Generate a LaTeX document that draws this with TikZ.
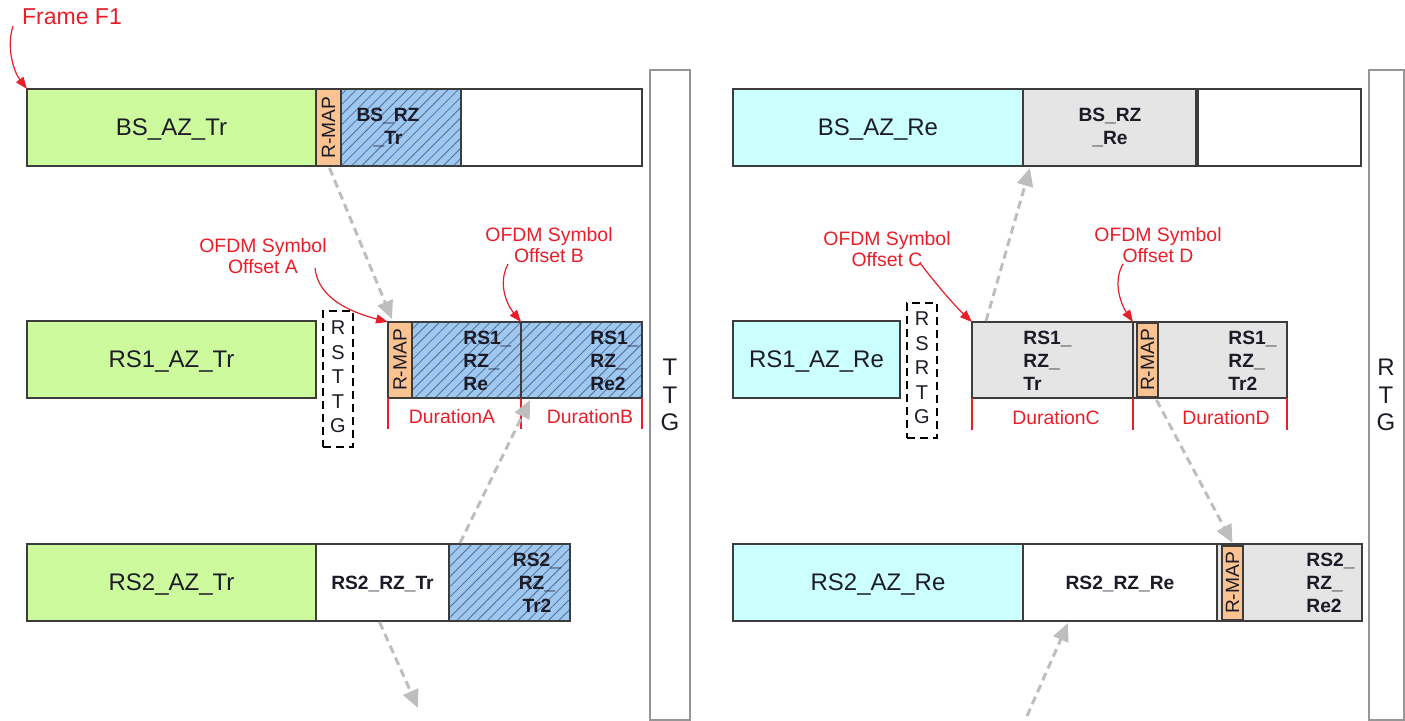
\documentclass[tikz,border=0pt]{standalone}
\usepackage{fontspec}
\setmainfont{Liberation Sans}
\usetikzlibrary{fit,calc,arrows.meta,patterns.meta}
\definecolor{azgreen}{RGB}{206,250,158}
\definecolor{azcyan}{RGB}{204,255,255}
\definecolor{rzgray}{RGB}{229,229,229}
\definecolor{rzblue}{RGB}{158,200,240}
\definecolor{hatchc}{RGB}{84,108,150}
\definecolor{rmapc}{RGB}{250,195,145}
\definecolor{edgec}{RGB}{60,60,60}
\definecolor{tallc}{RGB}{150,150,150}
\definecolor{redc}{RGB}{232,30,40}
\definecolor{arrowgray}{RGB}{190,190,190}
\definecolor{labelc}{RGB}{28,28,40}
\newcommand\fmainsz{\fontsize{12}{14}\selectfont}
\newcommand\fboldsz{\fontsize{9.6}{11.5}\selectfont\bfseries}
\begin{document}
\begin{tikzpicture}[x=0.5pt,y=-0.5pt,
  blk/.style={draw=edgec, line width=0.75pt, inner sep=0pt, outer sep=0pt},
  grn/.style={blk, fill=azgreen},
  cyn/.style={blk, fill=azcyan},
  wht/.style={blk, fill=white},
  gry/.style={blk, fill=rzgray},
  hat/.style={blk, preaction={fill=rzblue}, pattern={Lines[angle=45,distance=3.6pt,line width=0.4pt]}, pattern color=hatchc},
  rmapb/.style={blk, fill=rmapc},
  lab/.style={font=\fmainsz, text=labelc, inner sep=0pt, text depth=0pt},
  blab/.style={font=\fboldsz, text=labelc, inner sep=0pt, text depth=0pt},
  rmaptxt/.style={rotate=90, font=\fontsize{9.6}{11}\selectfont, text=labelc, inner sep=0pt},
  blbl/.style={font=\fboldsz, text=labelc, inner sep=0pt, align=left},
  bclbl/.style={font=\fboldsz, text=labelc, inner sep=0pt, align=center},
  tall/.style={draw=tallc, line width=0.6pt, inner sep=0pt},
  talltxt/.style={align=center, font=\fontsize{12}{13.8}\selectfont, text=labelc, inner sep=0pt},
  gapbox/.style={draw=black, line width=0.7pt, dash pattern=on 4pt off 2.5pt, inner sep=0pt},
  gaptxt/.style={align=center, font=\fontsize{10}{12.3}\selectfont, text=labelc, inner sep=0pt},
  rlbl/.style={font=\fontsize{9.7}{10.4}\selectfont, text=redc, align=center, inner sep=0pt},
  durtxt/.style={font=\fontsize{9.7}{11}\selectfont, text=redc, inner sep=0pt},
  durl/.style={draw=redc, line width=1pt},
  rarrow/.style={draw=redc, line width=0.6pt, -{Triangle[length=6pt,width=4.5pt]}},
  garrow/.style={draw=arrowgray, line width=1.5pt, dash pattern=on 4pt off 2.5pt, -{Triangle[length=9pt,width=8pt]}}
]
\useasboundingbox (0,0) rectangle (1405,721);

% ---------- left half ----------
\node[grn, fit={(27,89)(316,166)}] (bsaztr) {};
\node[lab] (bsaztrt) at (bsaztr.center) {BS\_AZ\_Tr};
\node[hat, fit={(341,89)(461,166)}] (bsrztr) {};
\node[rmapb, fit={(316,89)(341,166)}] (bsrmap) {};
\node[rmaptxt] (bsrmapt) at (bsrmap.center) {R-MAP};
\node[wht, fit={(461,89)(642,166)}] (bswl) {};
\node[bclbl] (bsrztrt) at (388,127) {BS\_RZ\\\_Tr};
\node[tall, fit={(650,70)(690,720)}] (ttg) {};
\node[talltxt] (ttgt) at (670,395) {T\\T\\G};

\node[grn, fit={(27,321)(316,398)}] (rs1aztr) {};
\node[lab] (rs1aztrt) at (rs1aztr.center) {RS1\_AZ\_Tr};
\node[gapbox, fit={(323,311)(353,447)}] (rsttg) {};
\node[gaptxt] (rsttgt) at (338,377) {R\\S\\T\\T\\G};
\node[hat, fit={(412,322)(521,398)}] (rs1re) {};
\node[hat, fit={(521,322)(642,398)}] (rs1re2) {};
\node[rmapb, fit={(388,322)(412,398)}] (rs1rmap) {};
\node[rmaptxt] (rs1rmapt) at (rs1rmap.center) {R-MAP};
\node[blbl, anchor=west] (rs1ret) at (463,361) {RS1\_\\RZ\_\\Re};
\node[blbl, anchor=west] (rs1re2t) at (590,361) {RS1\_\\RZ\_\\Re2};

\node[grn, fit={(27,544)(316,621)}] (rs2aztr) {};
\node[lab] (rs2aztrt) at (rs2aztr.center) {RS2\_AZ\_Tr};
\node[wht, fit={(316,544)(449,621)}] (rs2rztr) {};
\node[blab] (rs2rztrt) at (rs2rztr.center) {RS2\_RZ\_Tr};
\node[hat, fit={(449,544)(570,621)}] (rs2tr2) {};
\node[bclbl] (rs2tr2t) at (537,583) {RS2\_\\RZ\_\\Tr2};

% ---------- right half ----------
\node[cyn, fit={(733,89)(1023,166)}] (bsazre) {};
\node[lab] (bsazret) at (bsazre.center) {BS\_AZ\_Re};
\node[gry, fit={(1023,89)(1196,166)}] (bsrzre) {};
\node[bclbl] (bsrzret) at (1110,127) {BS\_RZ\\\_Re};
\node[wht, fit={(1198,89)(1361,166)}] (bswr) {};
\node[tall, fit={(1369,70)(1404,720)}] (rtg) {};
\node[talltxt] (rtgt) at (1386,395) {R\\T\\G};

\node[cyn, fit={(733,321)(900,398)}] (rs1azre) {};
\node[lab] (rs1azret) at (rs1azre.center) {RS1\_AZ\_Re};
\node[gapbox, fit={(907,303)(937,438)}] (rsrtg) {};
\node[gaptxt] (rsrtgt) at (922,368) {R\\S\\R\\T\\G};
\node[gry, fit={(972,322)(1133,398)}] (rs1rztr) {};
\node[gry, fit={(1133,322)(1287,398)}] (rs1rztr2) {};
\node[rmapb, fit={(1137,323)(1158,397)}] (rs1rmapr) {};
\node[rmaptxt] (rs1rmaprt) at (rs1rmapr.center) {R-MAP};
\node[blbl, anchor=west] (rs1rztrt) at (1023,361) {RS1\_\\RZ\_\\Tr};
\node[blbl, anchor=west] (rs1rztr2t) at (1228,361) {RS1\_\\RZ\_\\Tr2};

\node[cyn, fit={(733,544)(1023,621)}] (rs2azre) {};
\node[lab] (rs2azret) at (rs2azre.center) {RS2\_AZ\_Re};
\node[wht, fit={(1023,544)(1217,621)}] (rs2rzre) {};
\node[blab] (rs2rzret) at (rs2rzre.center) {RS2\_RZ\_Re};
\node[gry, fit={(1217,544)(1362,621)}] (rs2re2) {};
\node[rmapb, fit={(1222,546)(1243,620)}] (rs2rmapr) {};
\node[rmaptxt] (rs2rmaprt) at (rs2rmapr.center) {R-MAP};
\node[blbl, anchor=west] (rs2re2t) at (1306,583) {RS2\_\\RZ\_\\Re2};

% ---------- durations ----------
\draw[durl] (rs1rmap.south west) -- ++(0,31);
\draw[durl] (rs1re.south east) -- ++(0,31);
\draw[durl] (rs1re2.south east) -- ++(0,31);
\node[durtxt] (dura) at (452,417) {DurationA};
\node[durtxt] (durb) at (590,417) {DurationB};
\draw[durl] (rs1rztr.south west) -- ++(0,32);
\draw[durl] (rs1rztr.south east) -- ++(0,32);
\draw[durl] (rs1rztr2.south east) -- ++(0,32);
\node[durtxt] (durc) at (1056,418) {DurationC};
\node[durtxt] (durd) at (1226,418) {DurationD};

% ---------- red labels and arrows ----------
\node[font=\fontsize{11.5}{13}\selectfont, text=redc, inner sep=0pt] (frame) at (72,17) {Frame F1};
\coordinate (f1s) at (13,26);
\draw[rarrow] (f1s) .. controls (6,48) and (14,72) .. (bsaztr.north west);

\node[rlbl] (ofa) at (263,256) {OFDM Symbol\\Offset A};
\coordinate (oas) at (315,268);
\draw[rarrow] (oas) .. controls (318,298) and (350,312) .. (rs1rmap.north west);

\node[rlbl] (ofb) at (549,245) {OFDM Symbol\\Offset B};
\coordinate (obs) at (508,264);
\draw[rarrow] (obs) .. controls (497,285) and (508,306) .. (rs1re.north east);

\node[rlbl] (ofc) at (887,249) {OFDM Symbol\\Offset C};
\coordinate (ocs) at (920,263);
\draw[rarrow] (ocs) .. controls (935,283) and (955,306) .. (rs1rztr.north west);

\node[rlbl] (ofd) at (1158,245) {OFDM Symbol\\Offset D};
\coordinate (ods) at (1123,264);
\draw[rarrow] (ods) .. controls (1112,283) and (1122,306) .. (rs1rztr.north east);

% ---------- gray dashed arrows ----------
\draw[garrow] ($(bsrmap.south)+(1,2)$) -- ($(rs1rmap.north west)+(4,-3)$);
\draw[garrow] ($(rs2tr2.north west)+(11,-1)$) -- ($(rs1re2.south west)+(9,2)$);
\coordinate (down1) at (418,708);
\draw[garrow] ($(rs2rztr.south)+(-3,1)$) -- (down1);
\draw[garrow] ($(rs1rztr.north west)+(14,-1)$) -- ($(bsrzre.south west)+(7,2)$);
\draw[garrow] ($(rs1rmapr.south)+(9,3)$) -- ($(rs2rmapr.north)+(0,-3)$);
\coordinate (up1) at (1027,716);
\draw[garrow] (up1) -- ($(rs2rzre.south)+(-52,2)$);
\end{tikzpicture}
\end{document}
